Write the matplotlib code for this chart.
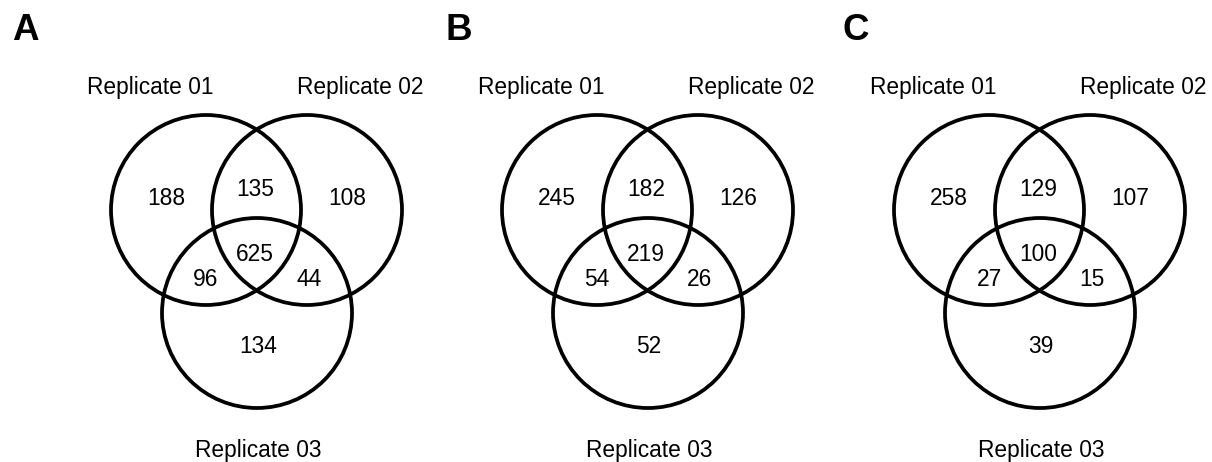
import matplotlib.pyplot as plt
from matplotlib.patches import Circle

plt.rcParams['font.family'] = ['Liberation Sans', 'DejaVu Sans']

# panel letters and set names
panels = ["A", "B", "C"]
set_names = ["Replicate 01", "Replicate 02", "Replicate 03"]

# region counts: only1, 1&2, only2, 1&2&3, 1&3, 2&3, only3
only1 = [188, 245, 258]
r12 = [135, 182, 129]
only2 = [108, 126, 107]
r123 = [625, 219, 100]
r13 = [96, 54, 27]
r23 = [44, 26, 15]
only3 = [134, 52, 39]

# layout (pixels)
cx3_list = [257, 648, 1040]
letter_x = [12, 445, 842]
R = 95

fig = plt.figure(figsize=(12.12, 4.62), dpi=100)
ax = fig.add_axes([0, 0, 1, 1])
ax.set_xlim(0, 1212)
ax.set_ylim(462, 0)
ax.set_aspect('equal')
ax.axis('off')

fs = 16.4
for i in range(3):
    cx = cx3_list[i]
    for (dx, cy) in [(-51, 210), (50, 210), (0, 313)]:
        ax.add_patch(Circle((cx + dx, cy), R, fill=False, ec='black', lw=2.7))

    counts = [only1[i], r12[i], only2[i], r123[i], r13[i], r23[i], only3[i]]
    pos = [(-91, 205), (-2, 196), (90, 205), (-2, 261), (-51, 286), (52, 286), (1, 353)]
    for n, (dx, by) in zip(counts, pos):
        ax.text(cx + dx, by, str(n), ha='center', va='baseline', fontsize=fs)

    ax.text(cx - 107, 94, set_names[0], ha='center', va='baseline', fontsize=fs)
    ax.text(cx + 103, 94, set_names[1], ha='center', va='baseline', fontsize=fs)
    ax.text(cx + 1, 457, set_names[2], ha='center', va='baseline', fontsize=fs)

    ax.text(letter_x[i], 40, panels[i], ha='left', va='baseline',
            fontsize=26.5, fontweight='bold')

fig.savefig("out.png", dpi=100)
